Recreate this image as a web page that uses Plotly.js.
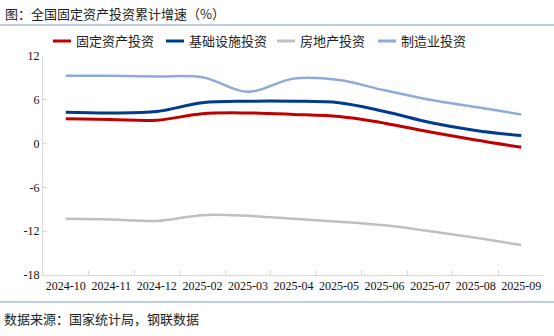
<!DOCTYPE html>
<html><head><meta charset="utf-8">
<script src="https://cdn.plot.ly/plotly-3.0.1.min.js"></script>
<style>html,body{margin:0;padding:0;background:#fff}#chart{width:554px;height:336px}</style>
</head><body><div id="chart"></div>
<script>
const categories = ["2024-10","2024-11","2024-12","2025-02","2025-03","2025-04","2025-05","2025-06","2025-07","2025-08","2025-09"];
const fixedAsset = [3.4, 3.3, 3.2, 4.1, 4.2, 4.0, 3.7, 2.8, 1.6, 0.5, -0.5];
const infrastructure = [4.3, 4.2, 4.4, 5.6, 5.8, 5.8, 5.6, 4.4, 2.9, 1.8, 1.1];
const realEstate = [-10.3, -10.4, -10.6, -9.8, -9.9, -10.3, -10.7, -11.2, -12.0, -12.9, -13.9];
const manufacturing = [9.3, 9.3, 9.2, 9.1, 7.1, 8.9, 8.7, 7.3, 6.0, 5.0, 4.0];
const seriesNames = ["固定资产投资","基础设施投资","房地产投资","制造业投资"];
const seriesColors = ['#c00000', '#003b8e', '#bfbfbf', '#8eaadb'];
const yTicks = [-18, -12, -6, 0, 6, 12];

const W = 554, H = 336, L = 43, R = 10, T = 56, B = 61;
const PW = W - L - R, PH = H - T - B;
const px = x => (x - L) / PW;
const py = y => (H - B - y) / PH;

const cjk = '"Noto Sans CJK SC", "Liberation Serif", serif';
const serif = '"Liberation Serif", "Times New Roman", serif';
function tr(y, i, w){
  return {x: categories, y: y, name: seriesNames[i], type: 'scatter', mode: 'lines',
    line: {color: seriesColors[i], width: w, shape: 'spline', smoothing: 1}};
}
const data = [
  tr(fixedAsset, 0, 3),
  tr(infrastructure, 1, 3),
  tr(realEstate, 2, 2.5),
  tr(manufacturing, 3, 2.5)
];
const legX = [53, 166, 277, 378];
const shapes = [
  {type: 'line', xref: 'paper', yref: 'paper', x0: px(0), x1: px(W), y0: py(25), y1: py(25), line: {color: '#a8bcd8', width: 1.5}},
  {type: 'line', xref: 'paper', yref: 'paper', x0: px(0), x1: px(W), y0: py(302), y1: py(302), line: {color: '#a8bcd8', width: 1.5}}
];
const annotations = [
  {text: '图：全国固定资产投资累计增速（%）', xref: 'paper', yref: 'paper', x: px(3), y: py(14),
    xanchor: 'left', yanchor: 'middle', showarrow: false, font: {family: cjk, size: 13, color: '#222'}},
  {text: '数据来源：国家统计局，钢联数据', xref: 'paper', yref: 'paper', x: px(2), y: py(318),
    xanchor: 'left', yanchor: 'middle', showarrow: false, font: {family: cjk, size: 13, color: '#222'}}
];
seriesNames.forEach((n, i) => {
  shapes.push({type: 'line', xref: 'paper', yref: 'paper', x0: px(legX[i]), x1: px(legX[i] + 18), y0: py(41), y1: py(41),
    line: {color: seriesColors[i], width: 3}});
  annotations.push({text: n, xref: 'paper', yref: 'paper', x: px(legX[i] + 21), y: py(41), xanchor: 'left', yanchor: 'middle',
    showarrow: false, font: {family: cjk, size: 13, color: '#222'}});
});
const layout = {
  width: W, height: H,
  margin: {l: L, r: R, t: T, b: B},
  paper_bgcolor: '#fff', plot_bgcolor: '#fff',
  showlegend: false,
  xaxis: {type: 'category', showgrid: false, zeroline: false, showline: true, linecolor: '#d9d9d9', linewidth: 1,
    ticks: 'inside', tickson: 'boundaries', ticklen: 5, tickcolor: '#d9d9d9',
    tickfont: {family: serif, size: 12, color: '#111'}, tickangle: 0, range: [-0.5, 10.5]},
  yaxis: {range: [-18, 12], tickvals: yTicks, ticktext: yTicks.map(String), showgrid: false, zeroline: false,
    showline: true, linecolor: '#d9d9d9', linewidth: 1, ticks: 'inside', ticklen: 4, tickcolor: '#d9d9d9',
    tickfont: {family: serif, size: 12, color: '#111'}},
  annotations: annotations,
  shapes: shapes
};
Plotly.newPlot('chart', data, layout, {displayModeBar: false, staticPlot: true});
</script></body></html>
